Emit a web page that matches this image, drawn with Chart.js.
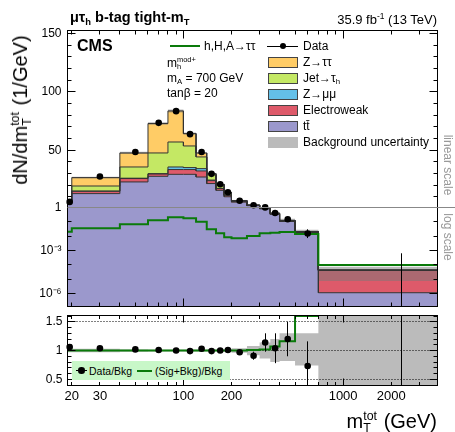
<!DOCTYPE html>
<html>
<head>
<meta charset="utf-8">
<script src="https://cdn.jsdelivr.net/npm/chart.js@4.4.0/dist/chart.umd.min.js"></script>
<style>
  html, body { margin: 0; padding: 0; background: #fff; }
  #wrap { position: relative; width: 455px; height: 432px; overflow: hidden;
          font-family: 'Liberation Sans', Arial, sans-serif; color: #000; }
  canvas { position: absolute; left: 0; top: 0; }
  .t { position: absolute; white-space: nowrap; line-height: 1; }
  .t sub { font-size: 0.65em; vertical-align: -0.3em; line-height: 0; }
  .t sup { font-size: 0.65em; vertical-align: 0.6em; line-height: 0; }
  .ss { display: inline-block; position: relative; font-size: 0.62em; width: 1.2em; height: 0; }
  .ss .a { position: absolute; left: 0; bottom: 0.45em; line-height: 1; }
  .ss .b { position: absolute; left: 0; top: -0.5em; line-height: 1; }
  .box { position: absolute; width: 28px; height: 9px; border: 1px solid #444; }
  .rot { position: absolute; width: 0; height: 0; }
  .rot > span { position: absolute; left: 0; top: 0; white-space: nowrap; line-height: 1; }
</style>
</head>
<body>
<div id="wrap">
  <canvas id="cLog" width="455" height="432"></canvas>
  <canvas id="cLin" width="455" height="432"></canvas>
  <canvas id="cRat" width="455" height="432"></canvas>

  <div class="t" style="left:70px;top:10px;font-size:14.5px;font-weight:bold">μτ<sub>h</sub> b-tag tight-m<sub>T</sub></div>
  <div class="t" style="right:18px;top:13px;font-size:13px">35.9 fb<sup>-1</sup> (13 TeV)</div>
  <div class="t" style="left:77px;top:38px;font-size:16px;font-weight:bold">CMS</div>

  <div style="position:absolute;left:170px;top:45px;width:30px;height:2px;background:#0a7a0a"></div>
  <div class="t" style="left:204px;top:40px;font-size:12px">h,H,A→ττ</div>
  <div class="t" style="left:167px;top:56.5px;font-size:12px">m<span class="ss" style="width:2.6em"><span class="a">mod+</span><span class="b">h</span></span></div>
  <div class="t" style="left:167px;top:71.5px;font-size:12px">m<sub>A</sub> = 700 GeV</div>
  <div class="t" style="left:167px;top:87px;font-size:12px">tanβ = 20</div>

  <div style="position:absolute;left:267px;top:45.5px;width:31px;height:1px;background:#000"></div>
  <div style="position:absolute;left:279.7px;top:42.7px;width:6.6px;height:6.6px;border-radius:50%;background:#000"></div>
  <div class="t" style="left:303px;top:40px;font-size:12px">Data</div>
  <div class="box" style="left:268px;top:57px;background:#ffcc66"></div>
  <div class="t" style="left:303px;top:56.4px;font-size:12px">Z→ττ</div>
  <div class="box" style="left:268px;top:73px;background:#c4e864"></div>
  <div class="t" style="left:303px;top:72.4px;font-size:12px">Jet→τ<sub>h</sub></div>
  <div class="box" style="left:268px;top:89px;background:#64c0e8"></div>
  <div class="t" style="left:303px;top:88.1px;font-size:12px">Z→μμ</div>
  <div class="box" style="left:268px;top:105px;background:#de5a6a"></div>
  <div class="t" style="left:303px;top:104.1px;font-size:12px">Electroweak</div>
  <div class="box" style="left:268px;top:121px;background:#9b98cc"></div>
  <div class="t" style="left:303px;top:120.1px;font-size:12px">tt̄</div>
  <div class="box" style="left:268px;top:136.5px;background:#bbbbbb;border-color:#bbbbbb"></div>
  <div class="t" style="left:303px;top:135.8px;font-size:12px">Background uncertainty</div>

  <div class="rot" style="left:20px;top:110px"><span style="font-size:20px;transform:translate(-50%,-50%) rotate(-90deg)">dN/dm<span class="ss"><span class="a">tot</span><span class="b">T</span></span> (1/GeV)</span></div>
  <div class="t" style="right:18px;top:411px;font-size:20px">m<span class="ss"><span class="a">tot</span><span class="b">T</span></span> (GeV)</div>

  <div class="rot" style="left:447.5px;top:165px"><span style="font-size:12px;color:#999;transform:translate(-50%,-50%) rotate(90deg)">linear scale</span></div>
  <div class="rot" style="left:447.5px;top:237px"><span style="font-size:12px;color:#999;transform:translate(-50%,-50%) rotate(90deg)">log scale</span></div>

  <div style="position:absolute;left:72px;top:361px;width:158px;height:19px;background:#c8f7c8"></div>
  <div style="position:absolute;left:76px;top:370px;width:11px;height:1px;background:#000"></div>
  <div style="position:absolute;left:78.4px;top:367.4px;width:6.6px;height:6.6px;border-radius:50%;background:#000"></div>
  <div class="t" style="left:89px;top:365.5px;font-size:10.5px">Data/Bkg</div>
  <div style="position:absolute;left:137px;top:369.7px;width:15px;height:2px;background:#0a7a0a"></div>
  <div class="t" style="left:155px;top:365.5px;font-size:10.5px">(Sig+Bkg)/Bkg</div>
</div>
<script>
var FONT = "'Liberation Sans', Arial, sans-serif";

// bins in m_T^tot (GeV); values in 1/GeV
var binEdges   = [10, 20, 40, 60, 80, 100, 120, 140, 160, 180, 200, 250, 300, 350, 400, 500, 700, 3900];
var binCentres = [19.4, 30, 50, 70, 90, 110, 130, 150, 170, 190, 225, 275, 325, 375, 450, 600, 2320];

var ttbar  = [4.7, 12.9, 22.9, 27.7, 29.4, 29.4, 27.1, 21.5, 15.7, 10.2, 5.6, 2.6, 0.8, 0.33, 0.105, 0.018, 1.1e-6];
var ewk    = [0.3, 2.0, 2.9, 2.0, 4.1, 4.1, 5.2, 2.5, 1.5, 1.3, 0.5, 0.25, 0.07, 0.035, 0.01, 0.0018, 4.0e-5];
var zmm    = [0.1, 0.2, 0.3, 0.3, 2.2, 1.7, 2.0, 0.5, 0.2, 0.1, 0.05, 0.02, 0.005, 0.002, 0.001, 0.0001, 0];
var jetTau = [0.2, 4.3, 9.6, 17.7, 21.4, 18.5, 10.0, 4.5, 2.8, 1.9, 0.65, 0.25, 0.06, 0.03, 0.008, 0.001, 1e-6];
var ztt    = [0.2, 7.2, 12.0, 25.2, 26.6, 10.6, 3.4, 1.0, 0.7, 0.5, 0.2, 0.08, 0.015, 0.003, 0.001, 0.0001, 1e-6];

var signal = [0.020, 0.035, 0.067, 0.127, 0.21, 0.176, 0.10, 0.030, 0.016, 0.0083, 0.0071, 0.0102, 0.016, 0.017, 0.019, 0.014, 9.5e-5];

var dataVals  = [5.8, 27.5, 48.5, 73.5, 83.5, 63.8, 48.5, 29.8, 20.9, 14.1, 6.8, 2.9, 1.08, 0.415, 0.15, 0.0153, 0];
var dataErrUp = [0.4, 0.7, 0.9, 1.1, 1.2, 1.0, 0.9, 0.7, 0.6, 0.5, 0.25, 0.17, 0.15, 0.09, 0.039, 0.0145, 6.3e-4];
var dataErrDn = [0.4, 0.7, 0.9, 1.1, 1.2, 1.0, 0.9, 0.7, 0.6, 0.5, 0.25, 0.17, 0.15, 0.09, 0.039, 0.008, 0];

// background uncertainty, relative to the total background
var bkgUncDn = [0.97, 0.97, 0.98, 0.985, 0.985, 0.985, 0.985, 0.985, 0.985, 0.98, 0.96, 0.92, 0.86, 0.80, 0.82, 0.74, 0.17];
var bkgUncUp = [1.03, 1.03, 1.02, 1.015, 1.015, 1.015, 1.015, 1.015, 1.015, 1.02, 1.04, 1.08, 1.14, 1.20, 1.30, 1.30, 1.70];

var ratioVals  = [1.06, 1.04, 1.02, 1.01, 1.0, 0.99, 1.03, 0.99, 1.0, 1.01, 0.97, 0.91, 1.14, 1.04, 1.2, 0.73, 0];
var ratioErrUp = [0.04, 0.03, 0.02, 0.015, 0.015, 0.015, 0.02, 0.025, 0.03, 0.035, 0.04, 0.07, 0.16, 0.26, 0.3, 0.43, 14];
var ratioErrDn = [0.04, 0.03, 0.02, 0.015, 0.015, 0.015, 0.02, 0.025, 0.03, 0.035, 0.04, 0.07, 0.16, 0.26, 0.3, 0.45, 0];
var sigRatio   = [1, 1, 1, 1, 1, 1, 1, 1, 1, 1, 1.0, 1.01, 1.02, 1.07, 1.16, 1.6, null];

// axes
var xTickLabels = [20, 30, 100, 200, 1000, 2000];
var xMajor = [100, 1000];
var xMinor = [20, 30, 40, 50, 60, 70, 80, 90, 200, 300, 400, 500, 600, 700, 800, 900, 2000, 3000];
var linTickVals = [1, 50, 100, 150];
var linMinor = [10, 20, 30, 40, 60, 70, 80, 90, 110, 120, 130, 140];
var logTickVals = [1e-3, 1e-6];
var logTickLabels = ['10\u207B\u00B3', '10\u207B\u2076'];
var logMinor = [1e-1, 1e-2, 1e-4, 1e-5, 1e-7];
var ratioTickVals = [0.5, 1, 1.5];
var ratioTickLabels = ['0.5', '1', '1.5'];
var ratioMinor = [0.6, 0.7, 0.8, 0.9, 1.1, 1.2, 1.3, 1.4, 1.6];

// panel geometry (page pixels)
var LEFT = 67.5, RIGHT = 437.5, LIN_TOP = 30, SPLIT = 207.5, LOG_BOT = 306, R_TOP = 315.5, R_BOT = 385;

var stackColours = ['#9b98cc', '#de5a6a', '#64c0e8', '#c4e864', '#ffcc66'];
var bandColour = 'rgba(120,120,120,0.5)';
var sigColour = '#0a7a0a';

function histPoints(vals){
  var pts = [];
  for (var i = 0; i < vals.length; i++){
    pts.push({x: binEdges[i], y: vals[i]});
    pts.push({x: binEdges[i + 1], y: vals[i]});
  }
  return pts;
}

function stackTops(){
  var tops = [], run = ttbar.map(function(){ return 0; });
  [ttbar, ewk, zmm, jetTau, ztt].forEach(function(arr){
    run = run.map(function(v, i){ return v + arr[i]; });
    tops.push(run);
  });
  return tops;
}

function crisp(v){ return Math.floor(v) + 0.5; }

function seg(ctx, x1, y1, x2, y2){
  ctx.beginPath(); ctx.moveTo(x1, y1); ctx.lineTo(x2, y2); ctx.stroke();
}

// frame, inward ticks, error bars, dotted lines
function deco(o){
  return {
    id: 'deco',
    beforeDatasetsDraw: function(chart){
      if (!o.dotted) return;
      var ctx = chart.ctx, a = chart.chartArea, ys = chart.scales.y;
      ctx.save();
      ctx.strokeStyle = '#000'; ctx.lineWidth = 1; ctx.setLineDash([1, 2]);
      o.dotted.forEach(function(v){
        var py = crisp(ys.getPixelForValue(v));
        seg(ctx, a.left, py, a.right, py);
      });
      ctx.restore();
    },
    afterDatasetsDraw: function(chart){
      var ctx = chart.ctx, a = chart.chartArea, xs = chart.scales.x, ys = chart.scales.y;
      var L = crisp(a.left), R = crisp(a.right), T = crisp(a.top), B = crisp(a.bottom);

      ctx.save();
      ctx.beginPath(); ctx.rect(a.left, a.top, a.right - a.left, a.bottom - a.top); ctx.clip();
      ctx.strokeStyle = '#000'; ctx.lineWidth = 1;
      (o.bars || []).forEach(function(b){
        var px = crisp(xs.getPixelForValue(b.x));
        var lo = Math.max(b.y - b.dn, ys.min), hi = b.y + b.up;
        seg(ctx, px, ys.getPixelForValue(lo), px, ys.getPixelForValue(hi));
      });
      ctx.restore();

      ctx.save();
      ctx.strokeStyle = '#000'; ctx.lineWidth = 1;
      var majX = xMajor.map(function(v){ return [v, o.xLen[0]]; });
      var minX = xMinor.map(function(v){ return [v, o.xLen[1]]; });
      majX.concat(minX).forEach(function(t){
        var px = crisp(xs.getPixelForValue(t[0]));
        if (px < L || px > R) return;
        if (o.xTop) seg(ctx, px, T, px, T + t[1]);
        if (o.xBottom) seg(ctx, px, B, px, B - t[1]);
      });
      var yt = o.yMajor.map(function(v){ return [v, 8]; }).concat(o.yMinor.map(function(v){ return [v, 4]; }));
      yt.forEach(function(t){
        var py = crisp(ys.getPixelForValue(t[0]));
        if (py < T || py > B) return;
        seg(ctx, L, py, L + t[1], py);
        seg(ctx, R, py, R - t[1], py);
      });
      seg(ctx, L, T - 0.5, L, B + 0.5);
      seg(ctx, R, T - 0.5, R, B + 0.5);
      if (o.frameTop) seg(ctx, L, T, R, T);
      if (o.frameBottom) seg(ctx, L, B, R, B);
      if (o.split){
        ctx.strokeStyle = '#888';
        seg(ctx, L, crisp(a.bottom), 455, crisp(a.bottom));
      }
      ctx.restore();
    }
  };
}

function yAxis(type, min, max, vals, labels, pad){
  return {
    type: type, min: min, max: max, position: 'left', bounds: 'data',
    grid: {display: false, drawTicks: false}, border: {display: false},
    afterFit: function(s){ s.width = LEFT; },
    afterBuildTicks: function(s){ s.ticks = vals.map(function(v){ return {value: v}; }); },
    ticks: {autoSkip: false, padding: pad, color: '#000', font: {family: FONT, size: 12},
      callback: function(v, i){ return labels[i]; }}
  };
}

function xHidden(){
  return {type: 'logarithmic', min: 18.8, max: 3900, display: false};
}

function baseOptions(top, bottom, xs, ys){
  return {
    responsive: false, animation: false, events: [],
    layout: {padding: {left: 0, right: 455 - RIGHT, top: top, bottom: bottom}},
    plugins: {legend: {display: false}, tooltip: {enabled: false}, filler: {drawTime: 'beforeDatasetsDraw'}},
    scales: {x: xs, y: ys}
  };
}

function mainDatasets(isLog){
  var tops = stackTops(), total = tops[4];
  var sets = tops.map(function(t, k){
    return {data: histPoints(t), backgroundColor: stackColours[k], borderColor: '#333',
      borderWidth: 1, pointRadius: 0, fill: k === 0 ? 'start' : '-1', order: 10 - k};
  });
  sets.push({data: histPoints(total.map(function(v, i){ return v * bkgUncDn[i]; })),
    borderColor: 'rgba(0,0,0,0)', borderWidth: 0, pointRadius: 0, fill: false, order: 4});
  sets.push({data: histPoints(total.map(function(v, i){ return v * bkgUncUp[i]; })),
    borderColor: 'rgba(0,0,0,0)', borderWidth: 0, pointRadius: 0, fill: '-1',
    backgroundColor: bandColour, order: 3});
  if (isLog){
    sets.push({data: histPoints(signal), borderColor: sigColour, borderWidth: 2,
      pointRadius: 0, fill: false, order: 1});
  }
  var pts = [];
  dataVals.forEach(function(v, i){
    if (isLog ? (v > 0 && v < 1) : v >= 1) pts.push({x: binCentres[i], y: v});
  });
  sets.push({data: pts, showLine: false, pointRadius: 3.3, pointBorderWidth: 0,
    pointBackgroundColor: '#000', pointBorderColor: '#000', order: 0, clip: 6});
  return sets;
}

function mainBars(isLog){
  var bars = [];
  dataVals.forEach(function(v, i){
    if (isLog ? v < 1 : v >= 1) bars.push({x: binCentres[i], y: v, up: dataErrUp[i], dn: dataErrDn[i]});
  });
  return bars;
}

new Chart(document.getElementById('cLog'), {
  type: 'line',
  data: {datasets: mainDatasets(true)},
  options: baseOptions(SPLIT, 432 - LOG_BOT, xHidden(),
    yAxis('logarithmic', 1.3e-7, 1, logTickVals, logTickLabels, 6)),
  plugins: [deco({bars: mainBars(true), xLen: [8, 4], xBottom: true, frameBottom: true,
    yMajor: logTickVals, yMinor: logMinor})]
});

new Chart(document.getElementById('cLin'), {
  type: 'line',
  data: {datasets: mainDatasets(false)},
  options: baseOptions(LIN_TOP, 432 - SPLIT, xHidden(),
    yAxis('linear', 1, 153, linTickVals, linTickVals.map(String), 6)),
  plugins: [deco({bars: mainBars(false), xLen: [8, 4], xTop: true, frameTop: true, split: true,
    yMajor: linTickVals.slice(1), yMinor: linMinor})]
});

var ratioPts = ratioVals.map(function(v, i){ return {x: binCentres[i], y: v}; });
var ratioBars = ratioVals.map(function(v, i){ return {x: binCentres[i], y: v, up: ratioErrUp[i], dn: ratioErrDn[i]}; });

new Chart(document.getElementById('cRat'), {
  type: 'line',
  data: {datasets: [
    {data: histPoints(bkgUncDn), borderColor: 'rgba(0,0,0,0)', borderWidth: 0, pointRadius: 0, fill: false, order: 4},
    {data: histPoints(bkgUncUp), borderColor: 'rgba(0,0,0,0)', borderWidth: 0, pointRadius: 0, fill: '-1',
      backgroundColor: bandColour, order: 3},
    {data: histPoints(sigRatio), borderColor: sigColour, borderWidth: 2, pointRadius: 0, fill: false, order: 1},
    {data: ratioPts, showLine: false, pointRadius: 3.3, pointBorderWidth: 0,
      pointBackgroundColor: '#000', pointBorderColor: '#000', order: 0, clip: 6}
  ]},
  options: baseOptions(R_TOP, 432 - R_BOT - 20, {
      type: 'logarithmic', min: 18.8, max: 3900, position: 'bottom',
      grid: {display: false, drawTicks: false}, border: {display: false},
      afterFit: function(s){ s.height = 20; },
      afterBuildTicks: function(s){ s.ticks = xTickLabels.map(function(v){ return {value: v}; }); },
      ticks: {autoSkip: false, maxRotation: 0, padding: 4, color: '#000', font: {family: FONT, size: 13},
        callback: function(v, i){ return String(xTickLabels[i]); }}
    },
    yAxis('linear', 0.4, 1.61, ratioTickVals, ratioTickLabels, 5)),
  plugins: [deco({bars: ratioBars, dotted: ratioTickVals, xLen: [7, 3.5], xTop: true, xBottom: true,
    frameTop: true, frameBottom: true, yMajor: ratioTickVals, yMinor: ratioMinor})]
});
</script>
</body>
</html>
